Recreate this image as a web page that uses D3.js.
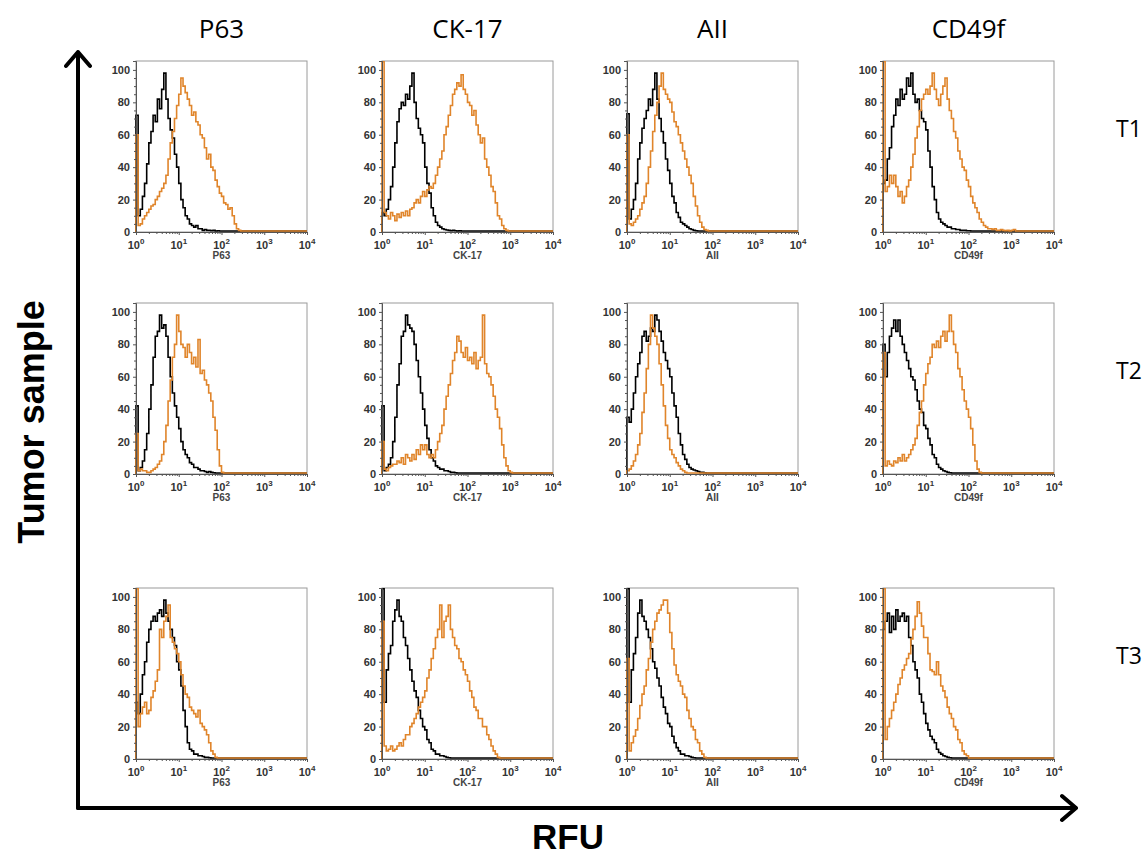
<!DOCTYPE html>
<html>
<head>
<meta charset="utf-8">
<script src="https://cdn.jsdelivr.net/npm/d3@7"></script>
<style>
  body { margin: 0; background: #fff; }
  svg { display: block; }
</style>
</head>
<body>
<svg id="chart" width="1148" height="857"></svg>
<script>
const markers = ["P63", "CK-17", "AII", "CD49f"];
const samples = ["T1", "T2", "T3"];
const yTicks = [0, 20, 40, 60, 80, 100];
const xTicks = [1, 10, 100, 1000, 10000];
const BIN = 0.05; // one value per 0.05 decade, starting at 10^0

// T1 -- black = control, orange = stained
const t1_p63_ctrl = [72,10,14,22,30,42,55,62,72,68,82,76,88,98,82,70,63,58,48,40,30,20,15,10,8,5,4,3,4,2,2,1,1.5,1,1,0.8,1,0.6,0.8,0.6,0.6];
const t1_p63_stain = [60,4,5,8,10,12,14,16,17,20,22,25,27,30,35,45,55,62,70,78,85,95,90,86,82,78,72,74,68,66,60,58,52,45,48,40,38,32,28,24,22,18,17,14,15,10,5,2,1,0.6];
const t1_ck17_ctrl = [12,10,14,20,28,40,55,68,76,80,78,85,82,90,98,80,70,64,60,55,40,30,24,15,10,6,4,3,2,1.5,1.2,1,0.8,1,0.8,0.6,0.8,0.6];
const t1_ck17_stain = [105,12,10,8,12,10,7,11,9,12,10,13,10,14,15,18,20,18,22,25,22,26,28,27,30,35,40,45,50,60,65,72,78,85,88,92,90,97,88,85,80,78,72,75,66,60,55,58,45,40,35,28,25,18,10,8,4,2,1,0.6];
const t1_aii_ctrl = [73,8,14,20,30,45,55,64,70,75,82,78,88,98,82,70,62,55,45,38,30,22,18,12,9,6,5,4,3,2,1.5,1,0.8,0.6];
const t1_aii_stain = [60,5,4,6,8,10,14,18,22,30,40,50,62,72,80,90,98,88,85,82,80,74,68,65,60,55,50,45,40,35,30,22,16,10,6,3,1.5,1,0.6];
const t1_cd49f_ctrl = [30,32,45,52,65,72,82,78,88,82,85,95,90,98,85,80,82,75,70,68,63,50,40,28,20,12,8,6,5,4,3,3,2,2,1.5,1.5,1,1,1,0.8,0.8,0.6];
const t1_cd49f_stain = [105,25,28,35,30,35,28,22,25,18,22,28,32,40,48,58,65,75,82,85,88,85,90,98,88,82,78,85,90,95,82,75,70,62,58,50,45,40,38,32,28,22,18,15,12,8,6,4,3,2,2,1.5,2,1,1,1.5,1,0.8,1,0.6,1,1.5,0.6];

// T2
const t2_p63_ctrl = [42,2,4,8,15,25,40,55,72,85,88,98,90,92,85,72,60,50,42,35,28,20,15,12,10,7,6,4,4,3,2,2,1.5,1,1.5,1,0.8,0.6];
const t2_p63_stain = [25,2,3,2,2,1,1,2,3,4,6,8,12,20,30,45,58,72,80,98,88,80,78,72,80,75,68,72,66,83,62,64,58,55,50,45,35,27,15,5,1,0.6];
const t2_ck17_ctrl = [42,2,4,6,10,20,35,55,68,85,88,98,92,90,88,80,70,60,50,40,30,22,15,10,8,5,4,3,3,2,2,1.5,1,1,0.8,0.6];
const t2_ck17_stain = [20,3,2,4,5,6,6,8,7,10,6,12,10,8,12,9,15,12,18,15,18,12,10,12,10,15,20,25,30,40,48,55,62,70,75,85,82,75,72,78,70,72,68,75,65,70,72,98,68,62,60,55,48,40,35,28,18,10,5,2,1,0.6];
const t2_aii_ctrl = [35,32,40,50,60,68,75,85,88,82,85,90,88,98,95,88,82,75,70,65,60,50,42,35,25,18,12,9,6,4,3,2.5,2,1.5,1,1,0.8,0.6];
const t2_aii_stain = [2,3,5,8,12,18,25,38,50,65,80,98,90,85,80,68,55,42,30,22,15,12,10,7,5,3,2,1,0.6];
const t2_cd49f_ctrl = [80,60,75,85,90,95,88,95,85,80,75,70,65,60,58,52,45,40,38,30,28,22,18,12,10,6,4,3,2,1.5,1,0.8,0.6];
const t2_cd49f_stain = [75,5,8,6,5,8,7,10,8,12,8,10,12,15,18,22,30,38,45,55,62,68,72,80,78,82,78,85,88,82,88,98,88,80,75,65,60,52,45,40,35,28,18,8,3,1,0.6];

// T3
const t3_p63_ctrl = [35,28,40,52,60,72,80,85,88,85,90,92,88,98,90,85,80,75,70,60,55,45,30,20,10,6,5,3,3,2,2,1.5,1,1,0.8,0.6];
const t3_p63_stain = [105,20,28,32,35,28,30,38,42,48,55,80,75,85,88,95,75,72,68,65,60,52,45,40,38,32,30,28,26,30,22,20,18,15,10,5,3,1,0.6];
const t3_ck17_ctrl = [105,35,55,65,70,85,92,98,88,85,75,70,62,55,48,42,38,30,25,20,18,12,10,6,5,3,3,2,2,1.5,1,0.8,0.6];
const t3_ck17_stain = [85,8,5,6,8,5,6,8,10,8,12,15,15,20,22,25,28,32,35,38,42,50,55,62,68,75,80,95,75,85,88,95,80,75,70,68,62,60,55,52,48,42,38,32,30,25,25,20,20,15,12,8,5,3,1,0.6];
const t3_aii_ctrl = [105,35,55,65,75,90,98,88,85,80,75,68,60,56,50,45,38,32,28,22,20,14,10,7,5,3,3,2,2,1.5,1,0.8,0.6];
const t3_aii_stain = [62,5,10,14,18,25,33,40,45,55,62,72,80,85,90,92,95,98,98,90,78,68,58,52,48,45,40,38,30,25,20,18,12,10,5,3,1,0.6];
const t3_cd49f_ctrl = [80,85,90,78,88,80,92,85,88,90,85,88,75,70,60,55,50,40,35,28,22,18,14,12,10,6,4,3,2,1.5,1,0.8,0.6];
const t3_cd49f_stain = [105,12,20,25,30,35,40,46,50,55,58,62,65,74,80,88,97,90,82,75,75,65,55,54,52,60,52,45,42,38,32,28,25,20,18,12,10,5,3,2,0.6];

// [control, stained] for each sample (row) and marker (column)
const curves = [
  [[t1_p63_ctrl, t1_p63_stain], [t1_ck17_ctrl, t1_ck17_stain], [t1_aii_ctrl, t1_aii_stain], [t1_cd49f_ctrl, t1_cd49f_stain]],
  [[t2_p63_ctrl, t2_p63_stain], [t2_ck17_ctrl, t2_ck17_stain], [t2_aii_ctrl, t2_aii_stain], [t2_cd49f_ctrl, t2_cd49f_stain]],
  [[t3_p63_ctrl, t3_p63_stain], [t3_ck17_ctrl, t3_ck17_stain], [t3_aii_ctrl, t3_aii_stain], [t3_cd49f_ctrl, t3_cd49f_stain]]
];
const lineColors = ["#000000", "#e0852b"];

// layout
const colLeft = [136, 382, 627, 883];
const rowZero = [232, 474, 759];
const plotW = 171, plotH = 171, yMax = 105.5;

const svg = d3.select("#chart");

const x = d3.scaleLog().domain([1, 1e4]).range([0, plotW]);
const y = d3.scaleLinear().domain([0, yMax]).range([plotH, 0]);

const line = d3.line()
    .x(d => x(d[0]))
    .y(d => y(Math.min(d[1], yMax)))
    .curve(d3.curveStepAfter);

function toPoints(vals) {
    let pts = [[1, 0]];
    vals.forEach((v, i) => pts.push([Math.pow(10, i * BIN), v]));
    pts.push([1e4, vals[vals.length - 1]]);
    return pts;
}

let minorX = [];
[1, 10, 100, 1000].forEach(d => { for (let k = 2; k < 10; k++) minorX.push(d * k); });
let minorY = d3.range(0, 101, 5).filter(v => v % 20 != 0);

samples.forEach((s, r) => {
    markers.forEach((m, c) => {
        let g = svg.append("g")
            .attr("transform", `translate(${colLeft[c]}, ${rowZero[r] - plotH})`);

        // frame
        g.append("rect")
            .attr("width", plotW).attr("height", plotH)
            .attr("fill", "none").attr("stroke", "#9a9a9a").attr("stroke-width", 1);

        // histograms
        curves[r][c].forEach((vals, k) => {
            g.append("path")
                .datum(toPoints(vals))
                .attr("fill", "none")
                .attr("stroke", lineColors[k])
                .attr("stroke-width", 1.6)
                .attr("d", line);
        });

        // y axis
        let ya = g.append("g")
            .call(d3.axisLeft(y).tickValues(yTicks).tickSize(3).tickPadding(3));
        g.append("g")
            .call(d3.axisLeft(y).tickValues(minorY).tickSize(2).tickFormat(""))
            .select(".domain").remove();
        ya.selectAll("text")
            .style("font-family", "'Liberation Sans', Arial, sans-serif")
            .style("font-size", "11px").style("font-weight", "bold").attr("fill", "#333");

        // x axis
        g.append("g")
            .attr("transform", `translate(0, ${plotH})`)
            .call(d3.axisBottom(x).tickValues(xTicks).tickSize(3).tickFormat(""));
        g.append("g")
            .attr("transform", `translate(0, ${plotH})`)
            .call(d3.axisBottom(x).tickValues(minorX).tickSize(2).tickFormat(""))
            .select(".domain").remove();
        g.selectAll(".domain, .tick line").attr("stroke", "#555");

        xTicks.forEach((t, i) => {
            let lab = g.append("text")
                .attr("x", x(t)).attr("y", plotH + 17)
                .attr("text-anchor", "middle")
                .style("font-family", "'Liberation Sans', Arial, sans-serif")
                .style("font-weight", "bold").attr("fill", "#333");
            lab.append("tspan").style("font-size", "11px").text("10");
            lab.append("tspan").style("font-size", "8px").attr("dy", -5).text(i);
        });

        g.append("text")
            .attr("x", plotW / 2).attr("y", plotH + 27)
            .attr("text-anchor", "middle")
            .style("font-family", "'Liberation Sans', Arial, sans-serif")
            .style("font-size", "10px").style("font-weight", "bold")
            .attr("fill", "#444")
            .text(m);
    });
});

// column titles
markers.forEach((m, c) => {
    svg.append("text")
        .attr("x", colLeft[c] + plotW / 2).attr("y", 38)
        .attr("text-anchor", "middle")
        .style("font-family", "'Open Sans', sans-serif").style("font-size", "26px")
        .text(m);
});

// row labels
samples.forEach((s, r) => {
    svg.append("text")
        .attr("x", 1129).attr("y", rowZero[r] - 95)
        .attr("text-anchor", "middle")
        .style("font-family", "'Open Sans', sans-serif").style("font-size", "23px")
        .text(s);
});

// big axes with open arrow heads
const ax = svg.append("g").attr("stroke", "#000").attr("stroke-width", 4)
    .attr("fill", "none").attr("stroke-linecap", "round").attr("stroke-linejoin", "round");
ax.append("path").attr("d", "M78,808 V52 M66,66 L78,52 L90,66");
ax.append("path").attr("d", "M78,808 H1076 M1062,796 L1076,808 L1062,820");

svg.append("text")
    .attr("transform", "translate(44, 422) rotate(-90)")
    .attr("text-anchor", "middle")
    .style("font-family", "'Liberation Sans', Arial, sans-serif")
    .style("font-size", "36px").style("font-weight", "bold")
    .text("Tumor sample");

svg.append("text")
    .attr("x", 568).attr("y", 849)
    .attr("text-anchor", "middle")
    .style("font-family", "'Liberation Sans', Arial, sans-serif")
    .style("font-size", "35px").style("font-weight", "bold")
    .text("RFU");
</script>
</body>
</html>
